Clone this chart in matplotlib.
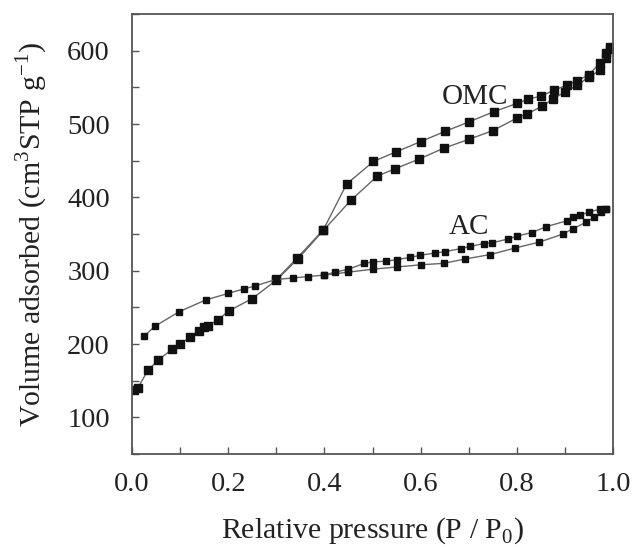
import matplotlib
matplotlib.use("Agg")
import matplotlib.pyplot as plt
from matplotlib.ticker import MultipleLocator

plt.rcParams['font.family'] = ['Liberation Serif', 'DejaVu Serif']
plt.rcParams['mathtext.fontset'] = 'custom'
plt.rcParams['mathtext.rm'] = 'Liberation Serif'

# OMC adsorption branch
omc_ads_p = [0.005, 0.012, 0.033, 0.054, 0.084, 0.100, 0.120, 0.139, 0.150, 0.158,
             0.179, 0.201, 0.250, 0.300, 0.345, 0.398, 0.455, 0.510, 0.547, 0.596,
             0.648, 0.700, 0.750, 0.800, 0.822, 0.852, 0.875, 0.900, 0.926, 0.949,
             0.973, 0.986, 0.994]
omc_ads_v = [137, 140, 164, 178, 193, 200, 209, 218, 223, 225,
             233, 245, 262, 287, 316, 355, 396, 429, 439, 452,
             467, 479, 491, 508, 514, 524, 534, 544, 553, 564,
             573, 590, 602]

# OMC desorption branch
omc_des_p = [0.994, 0.986, 0.973, 0.949, 0.926, 0.904, 0.877, 0.850, 0.824, 0.800,
             0.753, 0.701, 0.651, 0.600, 0.549, 0.502, 0.446, 0.398, 0.343, 0.300]
omc_des_v = [605, 597, 583, 567, 559, 553, 546, 538, 534, 528,
             517, 503, 490, 476, 462, 449, 418, 356, 317, 288]

# AC adsorption branch
ac_ads_p = [0.026, 0.047, 0.098, 0.153, 0.200, 0.232, 0.255, 0.299, 0.334, 0.366,
            0.400, 0.450, 0.500, 0.550, 0.600, 0.648, 0.693, 0.745, 0.797, 0.847,
            0.896, 0.916, 0.944, 0.960, 0.975, 0.985]
ac_ads_v = [211, 224, 244, 260, 269, 275, 279, 288, 290, 292,
            294, 298, 302, 305, 308, 310, 316, 322, 331, 339,
            350, 357, 366, 373, 380, 384]

# AC desorption branch
ac_des_p = [0.985, 0.973, 0.951, 0.932, 0.916, 0.904, 0.861, 0.831, 0.800, 0.781,
            0.748, 0.731, 0.703, 0.683, 0.651, 0.630, 0.599, 0.578, 0.550, 0.529,
            0.502, 0.483, 0.450, 0.422, 0.400]
ac_des_v = [384, 384, 380, 376, 373, 368, 360, 352, 347, 343,
            338, 337, 333, 330, 326, 324, 321, 318, 315, 313,
            312, 310, 302, 298, 294]

fig = plt.figure(figsize=(6.33, 5.47), dpi=100)
ax = fig.add_axes([0.2085, 0.17, 0.76, 0.8044])

line_kw = dict(color='#666666', linewidth=1.0, marker='s', markerfacecolor='#111111',
               markeredgecolor='#111111')
ax.plot(omc_ads_p, omc_ads_v, markersize=6, **line_kw)
ax.plot(omc_des_p, omc_des_v, markersize=6, **line_kw)
ax.plot(ac_ads_p, ac_ads_v, markersize=5, **line_kw)
ax.plot(ac_des_p, ac_des_v, markersize=5, **line_kw)

ax.text(0.713, 537, 'OMC', fontsize=21, color='#222222', ha='center', va='center')
ax.text(0.70, 360, 'AC', fontsize=21, color='#222222', ha='center', va='center')

ax.set_xlim(0, 1.0)
ax.set_ylim(50, 650)
ax.xaxis.set_major_locator(MultipleLocator(0.2))
ax.xaxis.set_minor_locator(MultipleLocator(0.1))
ax.yaxis.set_minor_locator(MultipleLocator(50))
ax.set_yticks([100, 200, 300, 400, 500, 600])
ax.xaxis.set_major_formatter(plt.FuncFormatter(lambda v, p: f"{v:.1f}"))

ax.tick_params(which='both', direction='in', length=5, width=1.0, color='#555555',
               labelsize=20.5, labelcolor='#222222')
ax.tick_params(axis='y', pad=16)
ax.tick_params(axis='x', pad=13)
for s in ax.spines.values():
    s.set_color('#555555')
    s.set_linewidth(1.3)

ax.set_xlabel('Relative pressure (P / P$_0$)', fontsize=21.5, color='#222222', labelpad=13)
ax.set_ylabel('Volume adsorbed (cm$^3$STP g$^{-1}$)', fontsize=21.5, color='#222222', labelpad=12)

fig.savefig('out.png', dpi=100)
